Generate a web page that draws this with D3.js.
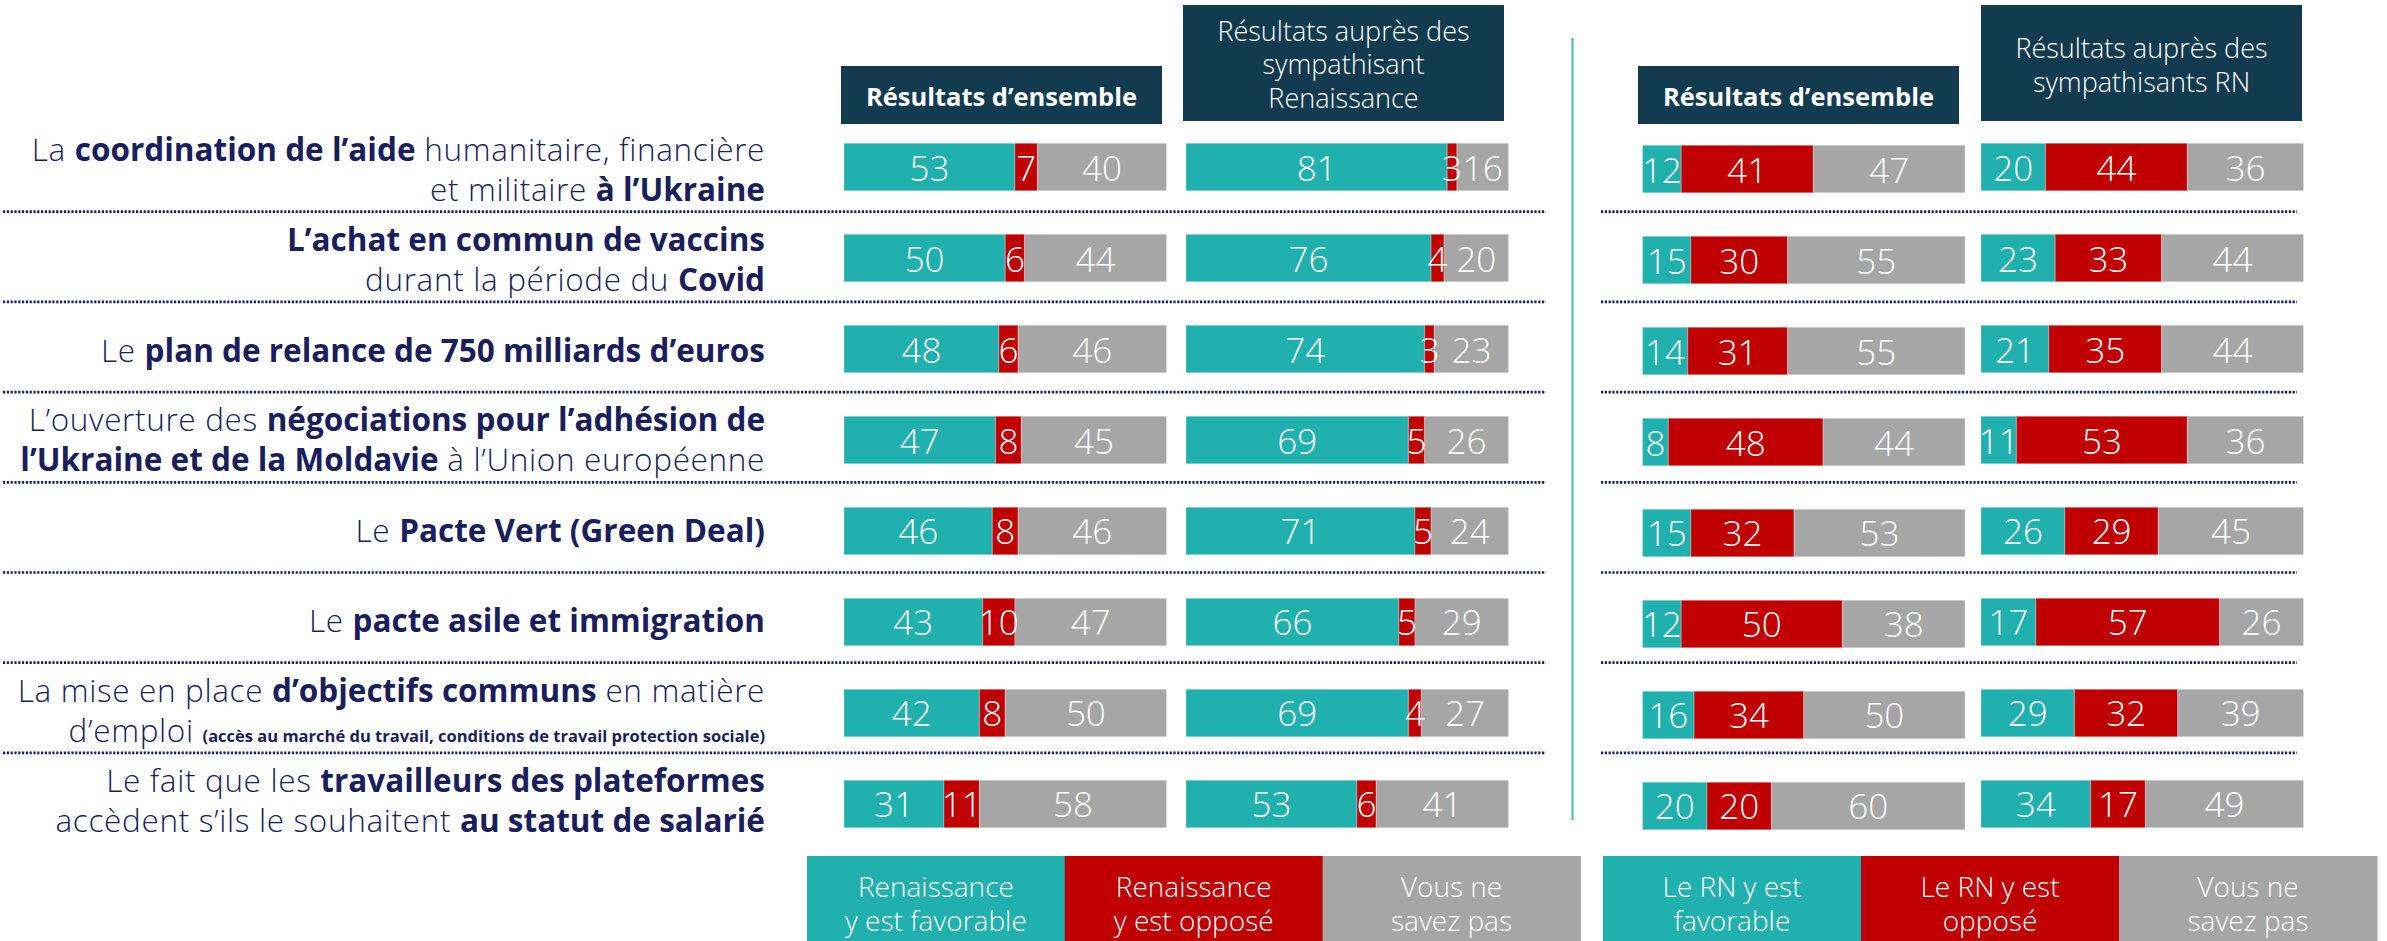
<!DOCTYPE html>
<html><head><meta charset="utf-8">
<script src="https://cdn.jsdelivr.net/npm/d3@7"></script>
<style>
html,body{margin:0;padding:0;background:#fff;overflow:hidden;}
svg{display:block;font-family:"Open Sans",sans-serif;}
</style></head><body>
<svg id="chart" width="2387" height="941"></svg>
<script>
// ---------- DATA ----------
// each row label: lines of [text, style] segments (0 = regular, 1 = bold, 2 = small bold)
const rowLabels = [
  [[["La ",0],["coordination de l’aide",1],[" humanitaire, financière",0]], [["et militaire ",0],["à l’Ukraine",1]]],
  [[["L’achat en commun de vaccins",1]], [["durant la période du ",0],["Covid",1]]],
  [[["Le ",0],["plan de relance de 750 milliards d’euros",1]]],
  [[["L’ouverture des ",0],["négociations pour l’adhésion de",1]], [["l’Ukraine et de la Moldavie",1],[" à l’Union européenne",0]]],
  [[["Le ",0],["Pacte Vert (Green Deal)",1]]],
  [[["Le ",0],["pacte asile et immigration",1]]],
  [[["La mise en place ",0],["d’objectifs communs",1],[" en matière",0]], [["d’emploi ",0],["(accès au marché du travail, conditions de travail protection sociale)",2]]],
  [[["Le fait que les ",0],["travailleurs des plateformes",1]], [["accèdent s’ils le souhaitent ",0],["au statut de salarié",1]]]
];
// [favorable, opposé, ne sait pas]
const renEnsemble     = [[53,7,40],[50,6,44],[48,6,46],[47,8,45],[46,8,46],[43,10,47],[42,8,50],[31,11,58]];
const renSympathisants= [[81,3,16],[76,4,20],[74,3,23],[69,5,26],[71,5,24],[66,5,29],[69,4,27],[53,6,41]];
const rnEnsemble      = [[12,41,47],[15,30,55],[14,31,55],[8,48,44],[15,32,53],[12,50,38],[16,34,50],[20,20,60]];
const rnSympathisants = [[20,44,36],[23,33,44],[21,35,44],[11,53,36],[26,29,45],[17,57,26],[29,32,39],[34,17,49]];

const panelTitles = [
  ["Résultats d’ensemble"],
  ["Résultats auprès des","sympathisant","Renaissance"],
  ["Résultats d’ensemble"],
  ["Résultats auprès des","sympathisants RN"]
];
const legendRen = [["Renaissance","y est favorable"],["Renaissance","y est opposé"],["Vous ne","savez pas"]];
const legendRN  = [["Le RN y est","favorable"],["Le RN y est","opposé"],["Vous ne","savez pas"]];

// ---------- STYLE / LAYOUT ----------
const colors = ["#20b0ae","#c00000","#a6a6a6"];
const navy = "#1b1e5c";
const headerFill = "#133b4f";
const W = 2387, H = 941;

const panels = [
  {data: renEnsemble,      x: 844,    dy: 0, hx: 841,  bold: true},
  {data: renSympathisants, x: 1186,   dy: 0, hx: 1183, bold: false},
  {data: rnEnsemble,       x: 1642.5, dy: 2, hx: 1638, bold: true},
  {data: rnSympathisants,  x: 1981,   dy: 0, hx: 1981, bold: false}
];
const panelW = 322.5;

const svg = d3.select("#chart");
svg.append("rect").attr("width",W).attr("height",H).attr("fill","#fff");

const rows = d3.range(rowLabels.length);
const y = d3.scaleBand().domain(rows).range([143.3, 827.7]).paddingInner(0.479).paddingOuter(0);
const yLab = d3.scaleBand().domain(rows).range([125, 125 + 8*90.2]);
const x = d3.scaleLinear().domain([0,100]).range([0, panelW]);
const stack = d3.stack().keys([0,1,2]);

// ---------- separators ----------
const sepG = svg.append("g");
rows.slice(0,-1).forEach(i => {
  const yy = yLab(i) + yLab.step() - 3.5;
  [[3,1546],[1601,2297]].forEach(([a,b]) => {
    sepG.append("line").attr("x1",a).attr("x2",b).attr("y1",yy).attr("y2",yy)
      .attr("stroke",navy).attr("stroke-width",2.7).attr("stroke-dasharray","2.2 1.6");
  });
});

// vertical divider
svg.append("line").attr("x1",1572.5).attr("x2",1572.5).attr("y1",38).attr("y2",820)
  .attr("stroke","#3dbdb8").attr("stroke-width",2);

// ---------- row labels ----------
const labG = svg.append("g").attr("fill",navy).attr("text-anchor","end");
rowLabels.forEach((lines,i) => {
  const c = yLab(i) + yLab.bandwidth()/2;
  const offs = lines.length === 2 ? [-9.5, 30.5] : [11];
  lines.forEach((segs,li) => {
    const t = labG.append("text").attr("x",765).attr("y",c + offs[li]).attr("font-size",31.5);
    segs.forEach(([s,st]) => {
      t.append("tspan").text(s)
        .attr("font-weight", st === 0 ? 300 : 700)
        .attr("letter-spacing", st === 0 ? 0.65 : 0)
        .attr("font-size", st === 2 ? 16.5 : 31.5);
    });
  });
});

// ---------- panels ----------
panels.forEach((p,pi) => {
  const g = svg.append("g").attr("transform",`translate(${p.x},${p.dy})`);
  const series = stack(p.data);
  series.forEach((s,k) => {
    g.selectAll(null).data(s).join("rect")
      .attr("x", d => x(d[0]))
      .attr("width", d => x(d[1]) - x(d[0]))
      .attr("y", (d,i) => y(i))
      .attr("height", y.bandwidth())
      .attr("fill", colors[k])
      .attr("stroke","#ffffff").attr("stroke-opacity",0.18).attr("stroke-width",1.5);
  });
  series.forEach((s,k) => {
    g.selectAll(null).data(s).join("text")
      .attr("x", d => x((d[0]+d[1])/2))
      .attr("y", (d,i) => y(i) + y.bandwidth()/2 + 13.5)
      .attr("text-anchor","middle").attr("fill","#fff")
      .attr("font-size",35).attr("font-weight",300)
      .text(d => d[1]-d[0]);
  });
  // header
  const title = panelTitles[pi];
  const hg = svg.append("g");
  if (p.bold) {
    hg.append("rect").attr("x",p.hx).attr("y",66).attr("width",321).attr("height",58).attr("fill",headerFill);
    hg.append("text").attr("x",p.hx+160.5).attr("y",106).attr("text-anchor","middle")
      .attr("fill","#fff").attr("font-size",25.5).attr("font-weight",700).text(title[0]);
  } else {
    hg.append("rect").attr("x",p.hx).attr("y",5).attr("width",321).attr("height",116).attr("fill",headerFill);
    const base = title.length === 3 ? 40.5 : 58;
    title.forEach((t,li) => {
      hg.append("text").attr("x",p.hx+160.5).attr("y",base + li*33.8).attr("text-anchor","middle")
        .attr("fill","#fff").attr("font-size",27).attr("font-weight",300).text(t);
    });
  }
});

// ---------- legends ----------
function legend(items, x0, segW) {
  const lg = svg.append("g");
  items.forEach((lines,k) => {
    const lx = x0 + k*segW;
    lg.append("rect").attr("x",lx).attr("y",856).attr("width",segW+0.5).attr("height",H-856).attr("fill",colors[k]);
    lines.forEach((t,li) => {
      lg.append("text").attr("x",lx+segW/2).attr("y",897 + li*34).attr("text-anchor","middle")
        .attr("fill","#fff").attr("font-size",28).attr("font-weight",300).text(t);
    });
  });
}
legend(legendRen, 807, 257.8);
legend(legendRN, 1603, 258);
</script>
</body></html>
